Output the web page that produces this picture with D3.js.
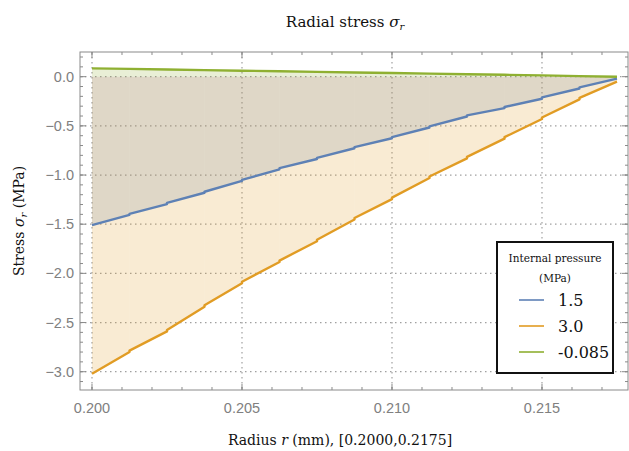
<!DOCTYPE html>
<html>
<head>
<meta charset="utf-8">
<script src="https://cdn.jsdelivr.net/npm/d3@7"></script>
<style>
  body { margin: 0; background: #fff; }
  svg { display: block; }
  .tick-label { font-family: 'Liberation Sans', 'DejaVu Sans', sans-serif; font-size: 14.5px; fill: #808080; }
  .serif { font-family: 'DejaVu Serif', serif; fill: #111; }
</style>
</head>
<body>
<div id="chart"></div>
<script>
const config = {
    width: 629,
    height: 451,
    left: 80,
    right: 628,
    top: 52,
    bottom: 390
};

// segment boundaries along the radius (mm)
const radii = [0.2, 0.20125, 0.2025, 0.20375, 0.205, 0.20625, 0.2075, 0.20875,
    0.21, 0.21125, 0.2125, 0.21375, 0.215, 0.21625, 0.2175];

// stress at start / end of each segment (MPa)
const blueStart = [-1.51, -1.395, -1.283, -1.17, -1.05, -0.93, -0.825, -0.716, -0.614, -0.505, -0.393, -0.308, -0.21, -0.108];
const blueEnd = [-1.405, -1.295, -1.18, -1.06, -0.942, -0.837, -0.728, -0.626, -0.517, -0.405, -0.32, -0.224, -0.12, -0.02];

const orangeStart = [-3.02, -2.785, -2.575, -2.325, -2.085, -1.87, -1.658, -1.437, -1.23, -1.015, -0.815, -0.615, -0.415, -0.215];
const orangeEnd = [-2.80, -2.59, -2.34, -2.10, -1.885, -1.673, -1.452, -1.245, -1.03, -0.83, -0.63, -0.43, -0.23, -0.05];

const greenStart = [0.085, 0.079, 0.073, 0.067, 0.061, 0.055, 0.049, 0.043, 0.037, 0.031, 0.025, 0.019, 0.013, 0.006];
const greenEnd = [0.079, 0.073, 0.067, 0.061, 0.055, 0.049, 0.043, 0.037, 0.031, 0.025, 0.019, 0.013, 0.006, 0.0];

const seriesNames = ['1.5', '3.0', '-0.085'];
const seriesColors = ['#5e81b5', '#e19c24', '#8fb032'];

const xMajor = [0.200, 0.205, 0.210, 0.215];
const xMajorLabels = ['0.200', '0.205', '0.210', '0.215'];
const yMajor = [0.0, -0.5, -1.0, -1.5, -2.0, -2.5, -3.0];
const yMajorLabels = ['0.0', '\u22120.5', '\u22121.0', '\u22121.5', '\u22122.0', '\u22122.5', '\u22123.0'];

const series = [
    { name: seriesNames[0], color: seriesColors[0], start: blueStart, end: blueEnd },
    { name: seriesNames[1], color: seriesColors[1], start: orangeStart, end: orangeEnd },
    { name: seriesNames[2], color: seriesColors[2], start: greenStart, end: greenEnd }
];

const svg = d3.select('#chart')
    .append('svg')
    .attr('width', config.width)
    .attr('height', config.height);

const xScale = d3.scaleLinear()
    .domain([0.1996, 0.217867])
    .range([config.left, config.right]);

const yScale = d3.scaleLinear()
    .domain([-3.186, 0.251])
    .range([config.bottom, config.top]);

// grid
svg.append('g')
    .selectAll('line')
    .data(xMajor)
    .join('line')
    .attr('x1', d => xScale(d))
    .attr('x2', d => xScale(d))
    .attr('y1', config.top)
    .attr('y2', config.bottom)
    .attr('stroke', '#a0a0a0')
    .attr('stroke-width', 1.2)
    .attr('stroke-dasharray', '1.5,3.5');

svg.append('g')
    .selectAll('line')
    .data(yMajor)
    .join('line')
    .attr('x1', config.left)
    .attr('x2', config.right)
    .attr('y1', d => yScale(d))
    .attr('y2', d => yScale(d))
    .attr('stroke', '#a0a0a0')
    .attr('stroke-width', 1.2)
    .attr('stroke-dasharray', '1.5,3.5');

// fills to the axis, one polygon per segment
series.forEach(s => {
    svg.append('g')
        .selectAll('path')
        .data(d3.range(s.start.length))
        .join('path')
        .attr('d', i => {
            const pts = [
                [xScale(radii[i]), yScale(0)],
                [xScale(radii[i]), yScale(s.start[i])],
                [xScale(radii[i + 1]), yScale(s.end[i])],
                [xScale(radii[i + 1]), yScale(0)]
            ];
            return 'M' + pts.join('L') + 'Z';
        })
        .attr('fill', s.color)
        .attr('fill-opacity', 0.2);
});

// lines
const line = d3.line()
    .x(d => xScale(d[0]))
    .y(d => yScale(d[1]));

series.forEach(s => {
    const pts = [];
    s.start.forEach((v, i) => {
        pts.push([radii[i], v]);
        pts.push([radii[i + 1], s.end[i]]);
    });
    svg.append('path')
        .attr('d', line(pts))
        .attr('fill', 'none')
        .attr('stroke', s.color)
        .attr('stroke-width', 2.4)
        .attr('stroke-linejoin', 'round');
});

// frame
svg.append('rect')
    .attr('x', config.left)
    .attr('y', config.top)
    .attr('width', config.right - config.left)
    .attr('height', config.bottom - config.top)
    .attr('fill', 'none')
    .attr('stroke', '#8a8a8a')
    .attr('stroke-width', 1);

// ticks on all four sides, pointing inward
const xMinor = d3.range(0, 18).map(i => 0.2 + i * 0.001);
const yMinor = d3.range(-31, 3).map(i => i * 0.1);
const tickG = svg.append('g').attr('stroke', '#8a8a8a').attr('stroke-width', 1);

function xTicks(vals, len) {
    vals.forEach(v => {
        const x = xScale(v);
        tickG.append('line').attr('x1', x).attr('x2', x).attr('y1', config.bottom).attr('y2', config.bottom - len);
        tickG.append('line').attr('x1', x).attr('x2', x).attr('y1', config.top).attr('y2', config.top + len);
    });
}
function yTicks(vals, len) {
    vals.forEach(v => {
        const y = yScale(v);
        tickG.append('line').attr('x1', config.left).attr('x2', config.left + len).attr('y1', y).attr('y2', y);
        tickG.append('line').attr('x1', config.right).attr('x2', config.right - len).attr('y1', y).attr('y2', y);
    });
}
xTicks(xMinor, 3);
xTicks(xMajor, 6);
yTicks(yMinor, 3);
yTicks(yMajor, 6);

// tick labels
svg.append('g')
    .selectAll('text')
    .data(xMajor)
    .join('text')
    .attr('class', 'tick-label')
    .attr('x', d => xScale(d))
    .attr('y', config.bottom + 23)
    .attr('text-anchor', 'middle')
    .text((d, i) => xMajorLabels[i]);

svg.append('g')
    .selectAll('text')
    .data(yMajor)
    .join('text')
    .attr('class', 'tick-label')
    .attr('x', config.left - 6)
    .attr('y', d => yScale(d) + 5)
    .attr('text-anchor', 'end')
    .text((d, i) => yMajorLabels[i]);

// title and axis labels
const title = svg.append('text')
    .attr('class', 'serif')
    .attr('x', 345)
    .attr('y', 27)
    .attr('text-anchor', 'middle')
    .attr('font-size', '15px');
title.append('tspan').text('Radial stress ');
title.append('tspan').attr('font-style', 'italic').text('σ');
title.append('tspan').attr('font-style', 'italic').attr('font-size', '10px').attr('dy', 3).text('r');

const xLab = svg.append('text')
    .attr('class', 'serif')
    .attr('x', 340)
    .attr('y', 445)
    .attr('text-anchor', 'middle')
    .attr('font-size', '14px');
xLab.append('tspan').text('Radius ');
xLab.append('tspan').attr('font-style', 'italic').text('r');
xLab.append('tspan').text(' (mm), [0.2000,0.2175]');

const yLab = svg.append('text')
    .attr('class', 'serif')
    .attr('transform', `translate(24,${(config.top + config.bottom) / 2}) rotate(-90)`)
    .attr('text-anchor', 'middle')
    .attr('font-size', '14px');
yLab.append('tspan').text('Stress ');
yLab.append('tspan').attr('font-style', 'italic').text('σ');
yLab.append('tspan').attr('font-style', 'italic').attr('font-size', '10px').attr('dy', 3).text('r');
yLab.append('tspan').attr('dy', -3).text('  (MPa)');

// legend
const legend = svg.append('g').attr('transform', 'translate(497,242)');
legend.append('rect')
    .attr('width', 116)
    .attr('height', 131)
    .attr('fill', '#fff')
    .attr('stroke', '#111')
    .attr('stroke-width', 2);
legend.append('text')
    .attr('class', 'serif')
    .attr('x', 58)
    .attr('y', 20)
    .attr('text-anchor', 'middle')
    .attr('font-size', '10.5px')
    .text('Internal pressure');
legend.append('text')
    .attr('class', 'serif')
    .attr('x', 58)
    .attr('y', 40)
    .attr('text-anchor', 'middle')
    .attr('font-size', '10.5px')
    .text('(MPa)');

const entries = legend.selectAll('g.entry')
    .data(series)
    .join('g')
    .attr('class', 'entry')
    .attr('transform', (d, i) => `translate(0,${58 + i * 26})`);
entries.append('line')
    .attr('x1', 22)
    .attr('x2', 47)
    .attr('stroke', d => d.color)
    .attr('stroke-width', 1.6);
entries.append('text')
    .attr('class', 'serif')
    .attr('x', 61)
    .attr('y', 6)
    .attr('font-size', '16px')
    .text(d => d.name);
</script>
</body>
</html>
